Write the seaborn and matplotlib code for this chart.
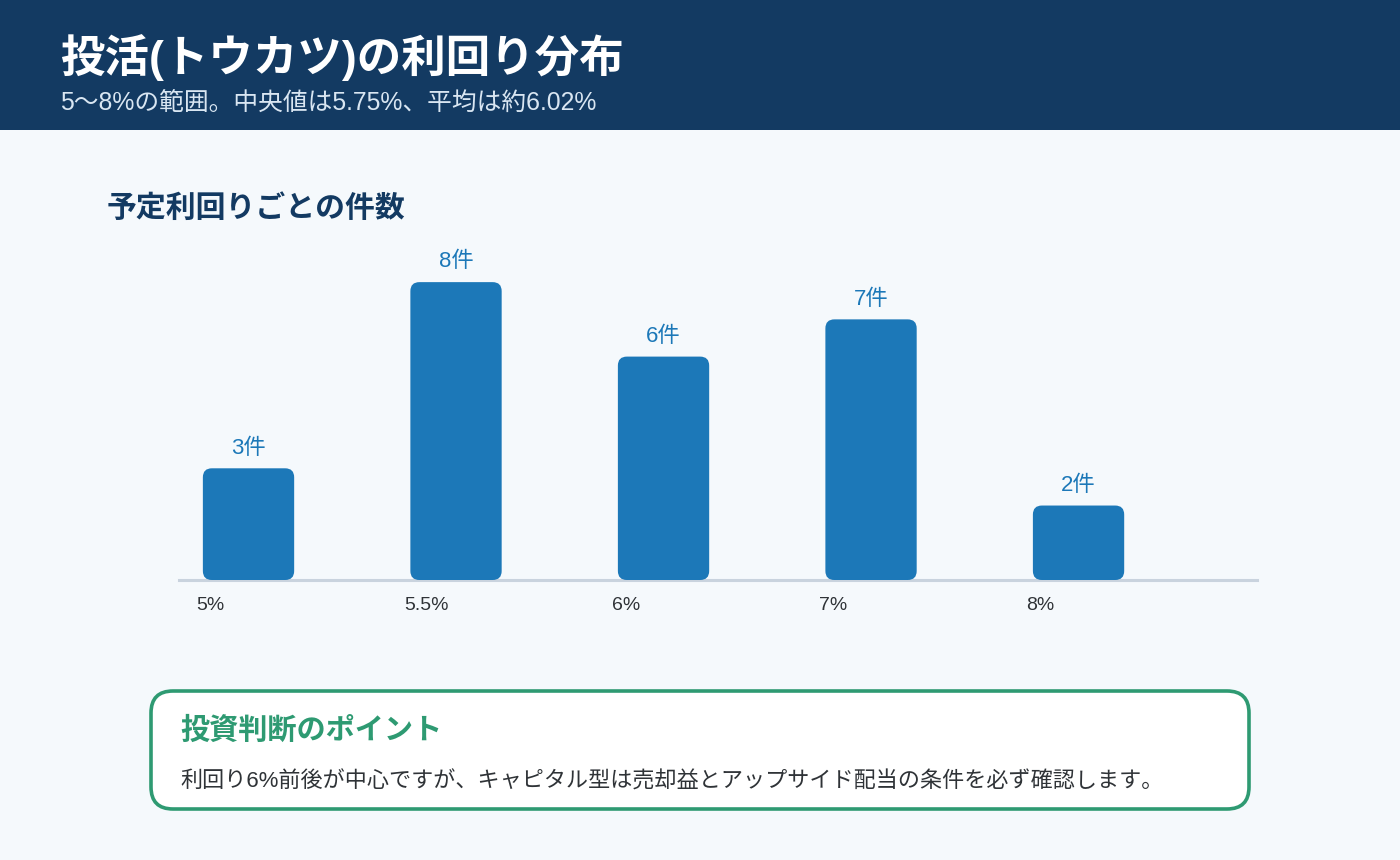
import pandas as pd
import numpy as np
import matplotlib
matplotlib.use("Agg")
import matplotlib.pyplot as plt
import seaborn as sns
from matplotlib.patches import FancyBboxPatch, Rectangle
from matplotlib.transforms import ScaledTranslation

# Data
yield_labels = ["5%", "5.5%", "6%", "7%", "8%"]
counts = [3, 8, 6, 7, 2]

title = "投活(トウカツ)の利回り分布"
subtitle = "5〜8%の範囲。中央値は5.75%、平均は約6.02%"
chart_title = "予定利回りごとの件数"
note_title = "投資判断のポイント"
note_text = "利回り6%前後が中心ですが、キャピタル型は売却益とアップサイド配当の条件を必ず確認します。"

# Colors
NAVY = "#133a62"
BG = "#f5f9fc"
BAR = "#1c78b8"
GREEN = "#2e9a72"
TEXT = "#2f3337"

sns.set_theme(style="white")
# Latin glyphs from Liberation Sans, Japanese falls through to Noto CJK
plt.rcParams["font.family"] = ["Liberation Sans", "Noto Sans CJK JP", "DejaVu Sans"]

df = pd.DataFrame({"yield": yield_labels, "count": counts})

W, H = 1400, 860
fig = plt.figure(figsize=(W / 100, H / 100), dpi=100)
fig.patch.set_facecolor(BG)

# background layer in pixel coordinates
bg = fig.add_axes([0, 0, 1, 1], zorder=0)
bg.set_xlim(0, W)
bg.set_ylim(H, 0)
bg.axis("off")
bg.add_patch(Rectangle((0, 0), W, 130, color=NAVY, lw=0))
bg.text(60, 58, title, color="white", fontsize=32, fontweight="bold", va="center", ha="left")
bg.text(60, 103, subtitle, color="#d9e6f2", fontsize=17.8, va="center", ha="left")
bg.text(107, 209, chart_title, color=NAVY, fontsize=21.5, fontweight="bold", va="center", ha="left")

# callout box
bg.add_patch(FancyBboxPatch((151, 691), 1098, 118,
                            boxstyle="round,pad=0,rounding_size=22",
                            fc="white", ec=GREEN, lw=2.6))
bg.text(180, 731, note_title, color=GREEN, fontsize=21, fontweight="bold", va="center", ha="left")
bg.text(180, 782, note_text, color=TEXT, fontsize=15.9, va="center", ha="left")

# main chart axes (pixel layout: x 179..1257, baseline y=580, top y=230)
ax_left, ax_right, ax_bottom, ax_top = 179, 1257, 580, 230
ax = fig.add_axes([ax_left / W, (H - ax_bottom) / H,
                   (ax_right - ax_left) / W, (ax_bottom - ax_top) / H], zorder=1)
ax.set_facecolor("none")

sns.barplot(data=df, x="yield", y="count", color=BAR, width=0.44, ax=ax,
            saturation=1, zorder=3)

ax.set_xlim(-0.335, 4.86)
ax.set_ylim(0, 9.4)

# swap plain bars for rounded ones
px_per_x = (ax_right - ax_left) / (4.86 + 0.335)
px_per_y = (ax_bottom - ax_top) / 9.4
radius_px = 9
bars = list(ax.patches)
for p in bars:
    x0, y0, w, h = p.get_x(), p.get_y(), p.get_width(), p.get_height()
    p.remove()
    ax.add_patch(FancyBboxPatch((x0, y0), w, h,
                                boxstyle=f"round,pad=0,rounding_size={radius_px / px_per_x}",
                                mutation_aspect=px_per_x / px_per_y,
                                fc=BAR, ec="none", zorder=3))
    ax.annotate(f"{int(h)}件", (x0 + w / 2, h), xytext=(0, 7), textcoords="offset points",
                ha="center", va="bottom", color=BAR, fontsize=16)

sns.despine(ax=ax, left=True)
ax.spines["bottom"].set_color("#c9d3de")
ax.spines["bottom"].set_linewidth(2.2)
ax.spines["bottom"].set_zorder(2)
ax.set_yticks([])
ax.set_xlabel("")
ax.set_ylabel("")
ax.tick_params(axis="x", length=0, pad=12.5, labelsize=14, labelcolor=TEXT)
shift = ScaledTranslation(-0.52, 0, fig.dpi_scale_trans)
for lab in ax.get_xticklabels():
    lab.set_horizontalalignment("left")
    lab.set_transform(lab.get_transform() + shift)

fig.savefig("out.png", dpi=100, facecolor=BG)
